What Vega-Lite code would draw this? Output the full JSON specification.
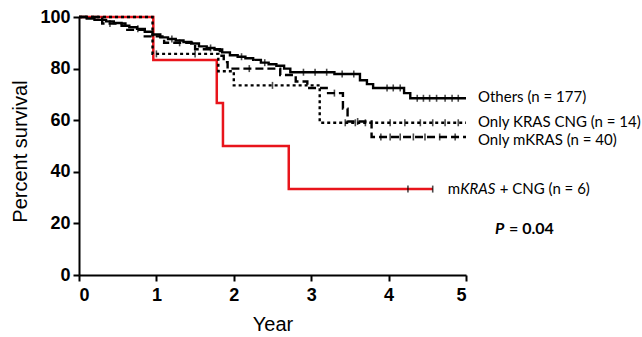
{
  "$schema": "https://vega.github.io/schema/vega-lite/v6.json",
  "width": 387,
  "height": 258,
  "autosize": {"type": "none"},
  "padding": {"left": 79, "top": 17, "right": 176, "bottom": 62},
  "background": "white",
  "config": {
    "view": {"stroke": null},
    "axis": {
      "grid": false,
      "domainColor": "black",
      "domainWidth": 2,
      "tickColor": "black",
      "tickWidth": 2,
      "tickSize": 6,
      "labelFont": "Liberation Sans",
      "labelFontWeight": "bold",
      "labelFontSize": 18,
      "labelColor": "black",
      "titleFont": "Liberation Sans",
      "titleFontWeight": "normal",
      "titleFontSize": 20,
      "titleColor": "black"
    }
  },
  "datasets": {
    "curves": [
      {"group": "mKRAS + CNG", "year": 0, "surv": 100},
      {"group": "mKRAS + CNG", "year": 0.96, "surv": 83.3},
      {"group": "mKRAS + CNG", "year": 1.78, "surv": 66.7},
      {"group": "mKRAS + CNG", "year": 1.86, "surv": 50},
      {"group": "mKRAS + CNG", "year": 2.71, "surv": 33.3},
      {"group": "mKRAS + CNG", "year": 4.57, "surv": 33.3},

      {"group": "Only KRAS CNG", "year": 0, "surv": 100},
      {"group": "Only KRAS CNG", "year": 0.95, "surv": 85.7},
      {"group": "Only KRAS CNG", "year": 1.8, "surv": 79},
      {"group": "Only KRAS CNG", "year": 2.0, "surv": 73.5},
      {"group": "Only KRAS CNG", "year": 3.11, "surv": 59},
      {"group": "Only KRAS CNG", "year": 5.0, "surv": 59},

      {"group": "Only mKRAS", "year": 0, "surv": 100},
      {"group": "Only mKRAS", "year": 0.3, "surv": 97.5},
      {"group": "Only mKRAS", "year": 0.6, "surv": 95},
      {"group": "Only mKRAS", "year": 0.85, "surv": 92.5},
      {"group": "Only mKRAS", "year": 1.1, "surv": 90},
      {"group": "Only mKRAS", "year": 1.5, "surv": 87.5},
      {"group": "Only mKRAS", "year": 1.82, "surv": 85},
      {"group": "Only mKRAS", "year": 1.87, "surv": 82.5},
      {"group": "Only mKRAS", "year": 1.92, "surv": 80},
      {"group": "Only mKRAS", "year": 2.6, "surv": 77.5},
      {"group": "Only mKRAS", "year": 2.8, "surv": 75},
      {"group": "Only mKRAS", "year": 2.95, "surv": 72.5},
      {"group": "Only mKRAS", "year": 3.2, "surv": 70.5},
      {"group": "Only mKRAS", "year": 3.41, "surv": 64.5},
      {"group": "Only mKRAS", "year": 3.47, "surv": 59.5},
      {"group": "Only mKRAS", "year": 3.78, "surv": 53.5},
      {"group": "Only mKRAS", "year": 5.0, "surv": 53.5},

      {"group": "Others", "year": 0, "surv": 100},
      {"group": "Others", "year": 0.1, "surv": 99.4},
      {"group": "Others", "year": 0.2, "surv": 98.9},
      {"group": "Others", "year": 0.35, "surv": 98.3},
      {"group": "Others", "year": 0.45, "surv": 97.7},
      {"group": "Others", "year": 0.55, "surv": 96.6},
      {"group": "Others", "year": 0.65, "surv": 96},
      {"group": "Others", "year": 0.75, "surv": 95.4},
      {"group": "Others", "year": 0.85, "surv": 94.3},
      {"group": "Others", "year": 0.95, "surv": 93.2},
      {"group": "Others", "year": 1.05, "surv": 92.1},
      {"group": "Others", "year": 1.15, "surv": 91.5},
      {"group": "Others", "year": 1.25, "surv": 90.9},
      {"group": "Others", "year": 1.35, "surv": 90.3},
      {"group": "Others", "year": 1.45, "surv": 89.7},
      {"group": "Others", "year": 1.55, "surv": 88.6},
      {"group": "Others", "year": 1.65, "surv": 88},
      {"group": "Others", "year": 1.75, "surv": 87.4},
      {"group": "Others", "year": 1.85, "surv": 86.3},
      {"group": "Others", "year": 1.95, "surv": 85.2},
      {"group": "Others", "year": 2.05, "surv": 84.6},
      {"group": "Others", "year": 2.15, "surv": 84},
      {"group": "Others", "year": 2.25, "surv": 83.4},
      {"group": "Others", "year": 2.35, "surv": 82.3},
      {"group": "Others", "year": 2.45, "surv": 81.7},
      {"group": "Others", "year": 2.55, "surv": 81.1},
      {"group": "Others", "year": 2.65, "surv": 80},
      {"group": "Others", "year": 2.73, "surv": 78.6},
      {"group": "Others", "year": 3.3, "surv": 77.9},
      {"group": "Others", "year": 3.63, "surv": 75.5},
      {"group": "Others", "year": 3.72, "surv": 74},
      {"group": "Others", "year": 3.8, "surv": 72.5},
      {"group": "Others", "year": 4.2, "surv": 70.5},
      {"group": "Others", "year": 4.28, "surv": 68.5},
      {"group": "Others", "year": 5.0, "surv": 68.5}
    ],
    "censor": [
      {"group": "mKRAS + CNG", "year": 4.25, "surv": 33.3},
      {"group": "mKRAS + CNG", "year": 4.57, "surv": 33.3},
      {"group": "Only KRAS CNG", "year": 1.0, "surv": 85.7},
      {"group": "Only KRAS CNG", "year": 1.5, "surv": 85.7},
      {"group": "Only KRAS CNG", "year": 2.5, "surv": 73.5},
      {"group": "Only KRAS CNG", "year": 3.44, "surv": 59},
      {"group": "Only KRAS CNG", "year": 3.57, "surv": 59},
      {"group": "Only KRAS CNG", "year": 3.7, "surv": 59},
      {"group": "Only KRAS CNG", "year": 4.02, "surv": 59},
      {"group": "Only KRAS CNG", "year": 4.21, "surv": 59},
      {"group": "Only KRAS CNG", "year": 4.41, "surv": 59},
      {"group": "Only KRAS CNG", "year": 4.57, "surv": 59},
      {"group": "Only KRAS CNG", "year": 4.73, "surv": 59},
      {"group": "Only KRAS CNG", "year": 4.9, "surv": 59},
      {"group": "Only mKRAS", "year": 0.4, "surv": 97.5},
      {"group": "Only mKRAS", "year": 1.3, "surv": 90},
      {"group": "Only mKRAS", "year": 2.2, "surv": 80},
      {"group": "Only mKRAS", "year": 3.3, "surv": 70.5},
      {"group": "Only mKRAS", "year": 3.6, "surv": 59.5},
      {"group": "Only mKRAS", "year": 3.9, "surv": 53.5},
      {"group": "Only mKRAS", "year": 4.02, "surv": 53.5},
      {"group": "Only mKRAS", "year": 4.15, "surv": 53.5},
      {"group": "Only mKRAS", "year": 4.32, "surv": 53.5},
      {"group": "Only mKRAS", "year": 4.47, "surv": 53.5},
      {"group": "Only mKRAS", "year": 4.66, "surv": 53.5},
      {"group": "Only mKRAS", "year": 4.86, "surv": 53.5},
      {"group": "Others", "year": 0.3, "surv": 98.9},
      {"group": "Others", "year": 0.76, "surv": 95.4},
      {"group": "Others", "year": 1.2, "surv": 91.5},
      {"group": "Others", "year": 1.7, "surv": 88},
      {"group": "Others", "year": 2.1, "surv": 84.6},
      {"group": "Others", "year": 2.4, "surv": 82.3},
      {"group": "Others", "year": 2.9, "surv": 78.6},
      {"group": "Others", "year": 3.05, "surv": 78.6},
      {"group": "Others", "year": 3.2, "surv": 78.6},
      {"group": "Others", "year": 3.4, "surv": 77.9},
      {"group": "Others", "year": 3.55, "surv": 77.9},
      {"group": "Others", "year": 3.98, "surv": 72.5},
      {"group": "Others", "year": 4.06, "surv": 72.5},
      {"group": "Others", "year": 4.15, "surv": 72.5},
      {"group": "Others", "year": 4.37, "surv": 68.5},
      {"group": "Others", "year": 4.45, "surv": 68.5},
      {"group": "Others", "year": 4.53, "surv": 68.5},
      {"group": "Others", "year": 4.62, "surv": 68.5},
      {"group": "Others", "year": 4.73, "surv": 68.5},
      {"group": "Others", "year": 4.82, "surv": 68.5},
      {"group": "Others", "year": 4.9, "surv": 68.5}
    ],
    "labels": [
      {"label": "Others (n = 177)", "year": 5.0, "surv": 69},
      {"label": "Only KRAS CNG (n = 14)", "year": 5.0, "surv": 59.3},
      {"label": "Only mKRAS (n = 40)", "year": 5.0, "surv": 52.3}
    ],
    "redlabel": [
      {"year": 4.57, "surv": 33.3, "a": "m", "b": "KRAS", "c": "+ CNG (n = 6)"}
    ],
    "pval": [
      {"year": 5.0, "surv": 18, "p": "P", "rest": "= 0.04"}
    ]
  },
  "encoding": {
    "x": {
      "field": "year",
      "type": "quantitative",
      "scale": {"domain": [0, 5], "nice": false, "zero": false},
      "axis": {"title": "Year", "values": [0, 1, 2, 3, 4, 5], "labelPadding": 5, "titlePadding": 10}
    },
    "y": {
      "field": "surv",
      "type": "quantitative",
      "scale": {"domain": [0, 100], "nice": false},
      "axis": {"title": "Percent survival", "values": [0, 20, 40, 60, 80, 100], "labelPadding": 3, "titlePadding": 9, "titleY": 134}
    }
  },
  "layer": [
    {
      "data": {"name": "curves"},
      "transform": [{"filter": "datum.group === 'mKRAS + CNG'"}],
      "mark": {"type": "line", "interpolate": "step-after", "color": "#e8141b", "strokeWidth": 2.5}
    },
    {
      "data": {"name": "curves"},
      "transform": [{"filter": "datum.group !== 'mKRAS + CNG'"}],
      "mark": {"type": "line", "interpolate": "step-after", "color": "black", "strokeWidth": 2.4},
      "encoding": {
        "detail": {"field": "group"},
        "strokeDash": {
          "field": "group",
          "type": "nominal",
          "scale": {"domain": ["Others", "Only KRAS CNG", "Only mKRAS"], "range": [[1, 0], [3, 3], [8, 4]]},
          "legend": null
        }
      }
    },
    {
      "data": {"name": "censor"},
      "mark": {"type": "tick", "orient": "vertical", "color": "black", "size": 7, "thickness": 1.6}
    },
    {
      "data": {"name": "labels"},
      "mark": {"type": "text", "align": "left", "baseline": "middle", "dx": 12, "font": "Lato", "fontSize": 15, "color": "black"},
      "encoding": {"text": {"field": "label"}}
    },
    {
      "data": {"name": "redlabel"},
      "mark": {"type": "text", "align": "left", "baseline": "middle", "dx": 15, "font": "Lato", "fontSize": 15, "color": "black"},
      "encoding": {"text": {"field": "a"}}
    },
    {
      "data": {"name": "redlabel"},
      "mark": {"type": "text", "align": "left", "baseline": "middle", "dx": 27.5, "font": "Lato", "fontSize": 15, "fontStyle": "italic", "color": "black"},
      "encoding": {"text": {"field": "b"}}
    },
    {
      "data": {"name": "redlabel"},
      "mark": {"type": "text", "align": "left", "baseline": "middle", "dx": 67, "font": "Lato", "fontSize": 15, "color": "black"},
      "encoding": {"text": {"field": "c"}}
    },
    {
      "data": {"name": "pval"},
      "mark": {"type": "text", "align": "left", "baseline": "middle", "dx": 29, "font": "Lato", "fontSize": 16, "fontWeight": "bold", "fontStyle": "italic", "color": "black"},
      "encoding": {"text": {"field": "p"}}
    },
    {
      "data": {"name": "pval"},
      "mark": {"type": "text", "align": "left", "baseline": "middle", "dx": 43, "font": "Lato", "fontSize": 16, "fontWeight": "bold", "color": "black"},
      "encoding": {"text": {"field": "rest"}}
    }
  ]
}
